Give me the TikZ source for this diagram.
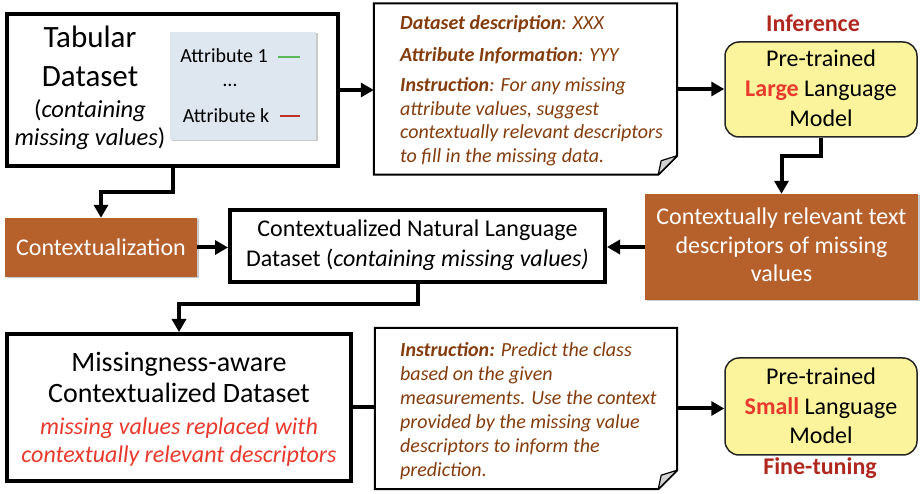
\documentclass[tikz,border=0pt]{standalone}
\usepackage{fontspec}
\setmainfont{Carlito}
\usetikzlibrary{arrows.meta,shadows}
\definecolor{notebrown}{HTML}{843C0C}
\definecolor{boxorange}{HTML}{B6602C}
\definecolor{llmyellow}{HTML}{FBF49C}
\definecolor{hlred}{HTML}{E8392C}
\definecolor{labred}{HTML}{B0271F}
\definecolor{attrfill}{HTML}{DEE6F0}
\definecolor{attrgreen}{HTML}{5CB85C}
\definecolor{attrred}{HTML}{C0302A}
\newcommand\fsize[1]{\fontsize{#1}{#1}\selectfont}
\tikzset{
  thickbox/.style={draw=black, line width=4pt, fill=white, inner sep=0pt},
  plainbox/.style={draw=none, inner sep=0pt},
  orangebox/.style={fill=boxorange, draw=none, inner sep=0pt,
    drop shadow={shadow xshift=1.5pt, shadow yshift=-1.5pt, opacity=0.35, fill=black!60}},
  attrbox/.style={fill=attrfill, draw=none, inner sep=0pt,
    drop shadow={shadow xshift=1.5pt, shadow yshift=-1.5pt, opacity=0.35, fill=black!60}},
  modelbox/.style={draw=black!85, line width=1.5pt, fill=llmyellow, rounded corners=14pt, inner sep=0pt},
  noteline/.style={line width=2pt, fill=white, line join=miter},
  notefold/.style={line width=1.2pt, fill=gray!35, line join=round},
  arr/.style={line width=4pt, -{Triangle[length=13pt,width=14pt]}},
  link/.style={line width=4pt},
  txt/.style={inner sep=0pt, anchor=base},
  ntxt/.style={inner sep=0pt, anchor=base west, text=notebrown, font=\fsize{20}\itshape},
  wtxt/.style={inner sep=0pt, anchor=base, text=white, font=\fsize{24}},
}
\begin{document}
\begin{tikzpicture}[x=1pt,y=-1pt]
\useasboundingbox (0,0) rectangle (922,494);

% ---------- boxes ----------
\node[thickbox, minimum width=331pt, minimum height=152pt] (tab) at (172.5,90) {};
\node[attrbox, minimum width=146pt, minimum height=108pt] (attr) at (243,86) {};
\node[plainbox, minimum width=303pt, minimum height=171pt] (note1) at (525.5,89) {};
\node[modelbox, minimum width=192pt, minimum height=95pt] (llm) at (821,89.5) {};
\node[orangebox, minimum width=273pt, minimum height=106pt] (desc) at (781.5,247) {};
\node[orangebox, minimum width=192pt, minimum height=59pt] (ctx) at (101,247.5) {};
\node[thickbox, minimum width=375pt, minimum height=72pt] (cnl) at (417.5,246) {};
\node[thickbox, minimum width=344pt, minimum height=147pt] (miss) at (179,407.5) {};
\node[plainbox, minimum width=302pt, minimum height=161pt] (note2) at (526,408.5) {};
\node[modelbox, minimum width=192pt, minimum height=97pt] (slm) at (821,406.5) {};

% note outlines with folded corner
\draw[noteline] (note1.north west) -- (note1.north east) -- ([yshift=19pt]note1.south east)
  -- ([xshift=-19pt]note1.south east) -- (note1.south west) -- cycle;
\draw[notefold] ([yshift=19pt]note1.south east) -- ([xshift=-16pt,yshift=14pt]note1.south east)
  -- ([xshift=-19pt]note1.south east) -- cycle;
\draw[noteline] (note2.north west) -- (note2.north east) -- ([yshift=19pt]note2.south east)
  -- ([xshift=-19pt]note2.south east) -- (note2.south west) -- cycle;
\draw[notefold] ([yshift=19pt]note2.south east) -- ([xshift=-16pt,yshift=14pt]note2.south east)
  -- ([xshift=-19pt]note2.south east) -- cycle;

% ---------- texts ----------
\node[txt, font=\fsize{31}] (tabA) at (90,48) {Tabular};
\node[txt, font=\fsize{31}] (tabB) at (90,87) {Dataset};
\node[txt, font=\fsize{24.5}] (tabC) at (90,118) {(\textit{containing}};
\node[txt, font=\fsize{24.5}] (tabD) at (90,146) {\textit{missing values})};

\node[txt, font=\fsize{20}] (a1) at (224,63) {Attribute 1};
\node[txt, font=\fsize{20}] (adots) at (230,87) {\char"2026};
\node[txt, font=\fsize{20}] (ak) at (226,123) {Attribute k};
\draw[line width=2.5pt, attrgreen] (278,57) -- (300,57);
\draw[line width=2.5pt, attrred] (280,116) -- (300,116);

\node[ntxt] (n1a) at (400,30) {\textbf{Dataset description}: XXX};
\node[ntxt] (n1b) at (400,62) {\textbf{Attribute Information}: YYY};
\node[ntxt] (n1c) at (400,92) {\textbf{Instruction}: For any missing};
\node[ntxt] (n1d) at (400,115.5) {attribute values, suggest};
\node[ntxt] (n1e) at (400,139) {contextually relevant descriptors};
\node[ntxt] (n1f) at (400,162.5) {to fill in the missing data.};

\node[txt, font=\fsize{24}\bfseries, text=labred] (inf) at (813,32) {Inference};
\node[txt, font=\fsize{24}] (llmA) at (821,67) {Pre-trained};
\node[txt, font=\fsize{24}] (llmB) at (821,97) {\textcolor{hlred}{\textbf{Large}} Language};
\node[txt, font=\fsize{24}] (llmC) at (821,127) {Model};

\node[wtxt] (descA) at (781.5,225) {Contextually relevant text};
\node[wtxt] (descB) at (781.5,254) {descriptors of missing};
\node[wtxt] (descC) at (781.5,282) {values};

\node[wtxt] (ctxA) at (101,256) {Contextualization};

\node[txt, font=\fsize{24}] (cnlA) at (417.5,237) {Contextualized Natural Language};
\node[txt, font=\fsize{24}] (cnlB) at (417.5,267) {Dataset (\textit{containing missing values)}};

\node[txt, font=\fsize{28}] (missA) at (179,372) {Missingness-aware};
\node[txt, font=\fsize{28}] (missB) at (179,403) {Contextualized Dataset};
\node[txt, font=\fsize{24}\itshape, text=hlred] (missC) at (179,435) {missing values replaced with};
\node[txt, font=\fsize{24}\itshape, text=hlred] (missD) at (179,463) {contextually relevant descriptors};

\node[ntxt] (n2a) at (400,357) {\textbf{Instruction:} Predict the class};
\node[ntxt] (n2b) at (400,381) {based on the given};
\node[ntxt] (n2c) at (400,405) {measurements. Use the context};
\node[ntxt] (n2d) at (400,429) {provided by the missing value};
\node[ntxt] (n2e) at (400,453) {descriptors to inform the};
\node[ntxt] (n2f) at (400,477) {prediction.};

\node[txt, font=\fsize{24}] (slmA) at (821,385) {Pre-trained};
\node[txt, font=\fsize{24}] (slmB) at (821,415) {\textcolor{hlred}{\textbf{Small}} Language};
\node[txt, font=\fsize{24}] (slmC) at (821,444) {Model};
\node[txt, font=\fsize{24}\bfseries, text=labred] (ft) at (820,475) {Fine-tuning};

% ---------- connectors ----------
\draw[arr] (tab.east) -- (tab.east -| note1.west);
\draw[arr] (note1.east) -- (note1.east -| llm.west);
\draw[arr] (llm.south) -- ++(0,18.5) -| (desc.north);
\draw[arr] (desc.west) -- (desc.west -| cnl.east);
\draw[arr] (tab.south) -- ++(0,24) -| (ctx.north);
\draw[arr] (ctx.east) -- (ctx.east -| cnl.west);
\draw[arr] (cnl.south) -- ++(0,20) -| (miss.north);
\draw[link] (miss.east) -- (miss.east -| note2.west);
\draw[arr] (note2.east) -- (note2.east -| slm.west);
\end{tikzpicture}
\end{document}
